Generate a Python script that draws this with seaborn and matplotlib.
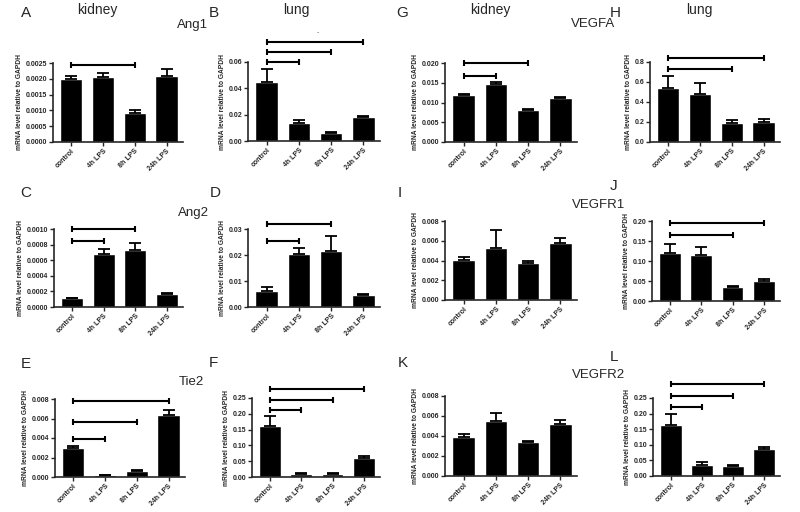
import matplotlib
matplotlib.use("Agg")
import matplotlib.pyplot as plt
import seaborn as sns
from matplotlib.ticker import FormatStrFormatter

# ==========================
# Data
# ==========================
groups = ["control", "4h LPS", "8h LPS", "24h LPS"]

ang1_kidney = [0.00200, 0.00205, 0.00092, 0.00210]
ang1_kidney_err = [0.00010, 0.00013, 0.00010, 0.00020]
ang1_lung = [0.045, 0.014, 0.006, 0.018]
ang1_lung_err = [0.010, 0.002, 0.0008, 0.0007]

ang2_kidney = [0.00011, 0.00068, 0.00073, 0.00017]
ang2_kidney_err = [0.00001, 0.00006, 0.00009, 0.00001]
ang2_lung = [0.0062, 0.0205, 0.0215, 0.0045]
ang2_lung_err = [0.0015, 0.0023, 0.0058, 0.0004]

tie2_kidney = [0.0030, 0.0002, 0.0006, 0.0064]
tie2_kidney_err = [0.0002, 0.00003, 0.0001, 0.0005]
tie2_lung = [0.160, 0.010, 0.011, 0.060]
tie2_lung_err = [0.033, 0.002, 0.002, 0.005]

vegfa_kidney = [0.0120, 0.0147, 0.0080, 0.0112]
vegfa_kidney_err = [0.0002, 0.0004, 0.0003, 0.0002]
vegfa_lung = [0.54, 0.48, 0.19, 0.20]
vegfa_lung_err = [0.12, 0.11, 0.03, 0.03]

vegfr1_kidney = [0.0041, 0.0053, 0.0037, 0.0058]
vegfr1_kidney_err = [0.0003, 0.0018, 0.0002, 0.0005]
vegfr1_lung = [0.120, 0.115, 0.034, 0.049]
vegfr1_lung_err = [0.023, 0.020, 0.003, 0.005]

vegfr2_kidney = [0.0039, 0.0055, 0.0034, 0.0052]
vegfr2_kidney_err = [0.0003, 0.0008, 0.0001, 0.0004]
vegfr2_lung = [0.165, 0.035, 0.032, 0.088]
vegfr2_lung_err = [0.035, 0.009, 0.003, 0.006]

# brackets: (target group index, height)
ang1_kidney_sig = [(2, 0.00243)]
ang1_lung_sig = [(1, 0.060), (2, 0.0676), (3, 0.0752)]
ang2_kidney_sig = [(1, 0.00085), (2, 0.0010)]
ang2_lung_sig = [(1, 0.0255), (2, 0.0319)]
tie2_kidney_sig = [(1, 0.0039), (2, 0.0056), (3, 0.0078)]
tie2_lung_sig = [(1, 0.213), (2, 0.245), (3, 0.280)]
vegfa_kidney_sig = [(1, 0.0166), (2, 0.020)]
vegfa_lung_sig = [(2, 0.729), (3, 0.84)]
vegfr1_kidney_sig = []
vegfr1_lung_sig = [(2, 0.166), (3, 0.196)]
vegfr2_kidney_sig = []
vegfr2_lung_sig = [(1, 0.221), (2, 0.255), (3, 0.296)]

# ==========================
# Panel layout (pixels: left, top, right, bottom)
# ==========================
panels = [
    ("A", ang1_kidney, ang1_kidney_err, ang1_kidney_sig, 0.0025, 0.0005, 4, (53, 63, 183, 142)),
    ("B", ang1_lung, ang1_lung_err, ang1_lung_sig, 0.06, 0.02, 2, (248, 62, 380, 141)),
    ("G", vegfa_kidney, vegfa_kidney_err, vegfa_kidney_sig, 0.020, 0.005, 3, (445, 63, 577, 142)),
    ("H", vegfa_lung, vegfa_lung_err, vegfa_lung_sig, 0.8, 0.2, 1, (650, 62, 780, 142)),
    ("C", ang2_kidney, ang2_kidney_err, ang2_kidney_sig, 0.0010, 0.0002, 4, (54, 229, 183, 307)),
    ("D", ang2_lung, ang2_lung_err, ang2_lung_sig, 0.03, 0.01, 2, (248, 229, 380, 307)),
    ("I", vegfr1_kidney, vegfr1_kidney_err, vegfr1_kidney_sig, 0.008, 0.002, 3, (445, 221, 577, 300)),
    ("J", vegfr1_lung, vegfr1_lung_err, vegfr1_lung_sig, 0.20, 0.05, 2, (652, 221, 780, 301)),
    ("E", tie2_kidney, tie2_kidney_err, tie2_kidney_sig, 0.008, 0.002, 3, (55, 399, 185, 477)),
    ("F", tie2_lung, tie2_lung_err, tie2_lung_sig, 0.25, 0.05, 2, (252, 398, 380, 477)),
    ("K", vegfr2_kidney, vegfr2_kidney_err, vegfr2_kidney_sig, 0.008, 0.002, 3, (445, 396, 577, 476)),
    ("L", vegfr2_lung, vegfr2_lung_err, vegfr2_lung_sig, 0.25, 0.05, 2, (653, 398, 780, 476)),
]

sns.set_style("ticks")
plt.rcParams['font.family'] = ['Liberation Sans', 'DejaVu Sans']

W, H = 800, 512
fig = plt.figure(figsize=(8, 5.12), dpi=100)


def px(x, y):
    return x / W, 1 - y / H


for letter, vals, errs, sig, ymax, ystep, dec, (l, t, r, b) in panels:
    ax = fig.add_axes([l / W, 1 - b / H, (r - l) / W, (b - t) / H])
    sns.barplot(x=groups, y=vals, color="black", saturation=1,
                width=0.7, ax=ax, errorbar=None)
    ax.errorbar(range(4), vals, yerr=[[0] * 4, errs], fmt="none",
                ecolor="black", elinewidth=1.3, capsize=4, capthick=1.3)

    for target, h in sig:
        ax.plot([0, target], [h, h], color="black", lw=1.5,
                marker="|", markersize=5, markeredgewidth=1.5, clip_on=False)

    ax.set_xlim(-0.58, 3.52)
    ax.set_ylim(0, ymax)
    n = int(round(ymax / ystep))
    ax.set_yticks([i * ystep for i in range(n + 1)])
    ax.yaxis.set_major_formatter(FormatStrFormatter(f"%.{dec}f"))
    ax.tick_params(axis="y", labelsize=5, length=3, width=1, pad=1)
    ax.tick_params(axis="x", labelsize=5, length=3, width=1, pad=1)
    for lab in ax.get_yticklabels():
        lab.set_fontweight("bold")
    ax.set_xticks(range(4))
    ax.set_xticklabels(groups, rotation=45, ha="right",
                       rotation_mode="anchor", fontweight="bold")
    ax.set_xlabel("")
    ax.set_ylabel("mRNA level relative to GAPDH", fontsize=4.8,
                  fontweight="bold", labelpad=2)
    for s in ["left", "bottom"]:
        ax.spines[s].set_linewidth(1.2)
    sns.despine(ax=ax)

# ==========================
# Panel letters and titles
# ==========================
letter_pos = {
    "A": (26, 13), "B": (214, 13), "G": (402, 13), "H": (615, 13),
    "C": (26, 193), "D": (215, 193), "I": (400, 193), "J": (614, 186),
    "E": (26, 364), "F": (213, 363), "K": (403, 363), "L": (614, 357),
}
for k, (x, y) in letter_pos.items():
    fig.text(*px(x, y), k, fontsize=11, ha="center", va="center")

tissue_titles = [("kidney", 97, 10), ("lung", 296, 10),
                 ("kidney", 490, 10), ("lung", 699, 10)]
for txt, x, y in tissue_titles:
    fig.text(*px(x, y), txt, fontsize=10, ha="center", va="center")

gene_titles = [("Ang1", 193, 25), ("Ang2", 193, 213), ("Tie2", 191, 382),
               ("VEGFA", 593, 24), ("VEGFR1", 599, 205), ("VEGFR2", 599, 375)]
for txt, x, y in gene_titles:
    fig.text(*px(x, y), txt, fontsize=9.5, ha="center", va="center")

fig.text(*px(318, 33), "-", fontsize=5, color="0.4", ha="center", va="center")

plt.savefig("out.png", dpi=100)
